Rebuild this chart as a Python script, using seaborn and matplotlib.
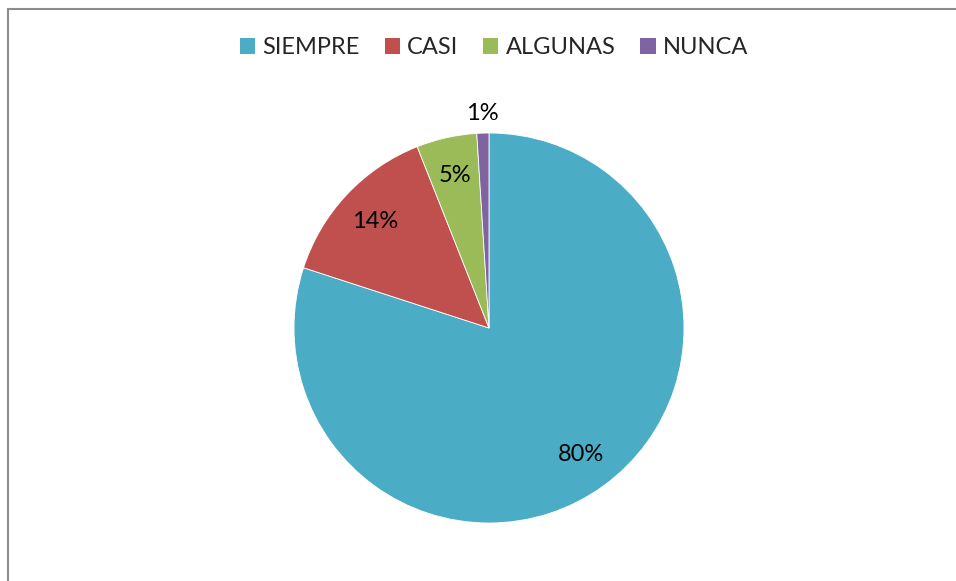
import matplotlib
matplotlib.use("Agg")
import matplotlib.pyplot as plt
import seaborn as sns
import numpy as np
from matplotlib.lines import Line2D
from matplotlib.patches import Patch

categories = ["SIEMPRE", "CASI", "ALGUNAS", "NUNCA"]
values = [80, 14, 5, 1]
labels = ["80%", "14%", "5%", "1%"]
colors = ["#4BACC6", "#C0504D", "#9BBB59", "#8064A2"]

sns.set_theme(style="white")
plt.rcParams["font.family"] = ["Lato", "DejaVu Sans"]

W, H = 956, 581
fig = plt.figure(figsize=(W / 100, H / 100), dpi=100)
fig.patch.set_facecolor("white")

cx, cy, r = 489, 328, 195
ax = fig.add_axes([(cx - r) / W, (H - cy - r) / H, 2 * r / W, 2 * r / H])
sns.set_palette(colors)

wedges, texts, autotexts = ax.pie(
    values, colors=colors, startangle=90, counterclock=False,
    autopct=lambda p: "", pctdistance=0.8, radius=1,
    wedgeprops=dict(linewidth=0.6, edgecolor="white"),
)
for t, lab in zip(autotexts, labels):
    t.set_text(lab)
    t.set_fontsize(17)
    t.set_color("black")
for t in texts:
    t.set_text("")
# move smallest label outside the pie
w = wedges[-1]
ang = np.deg2rad((w.theta1 + w.theta2) / 2)
autotexts[-1].set_position((1.1 * np.cos(ang), 1.1 * np.sin(ang)))

ax.set_xlim(-1, 1)
ax.set_ylim(-1, 1)
ax.set_aspect("equal")
ax.axis("off")

handles = [Patch(facecolor=c, edgecolor="none") for c in colors]
fig.legend(handles, categories, loc="center", ncol=4,
           bbox_to_anchor=(494 / W, 1 - 48 / H), frameon=False,
           fontsize=17, handlelength=0.65, handleheight=0.65,
           handletextpad=0.3, columnspacing=1.05)

# chart-area border (top and left visible)
fig.add_artist(Line2D([8 / W, 8 / W], [0, 1 - 8.5 / H], color="#8c8c8c", lw=1.5, transform=fig.transFigure))
fig.add_artist(Line2D([8 / W, 1], [1 - 8.5 / H, 1 - 8.5 / H], color="#8c8c8c", lw=1.5, transform=fig.transFigure))

fig.savefig("out.png", dpi=100, facecolor="white")
